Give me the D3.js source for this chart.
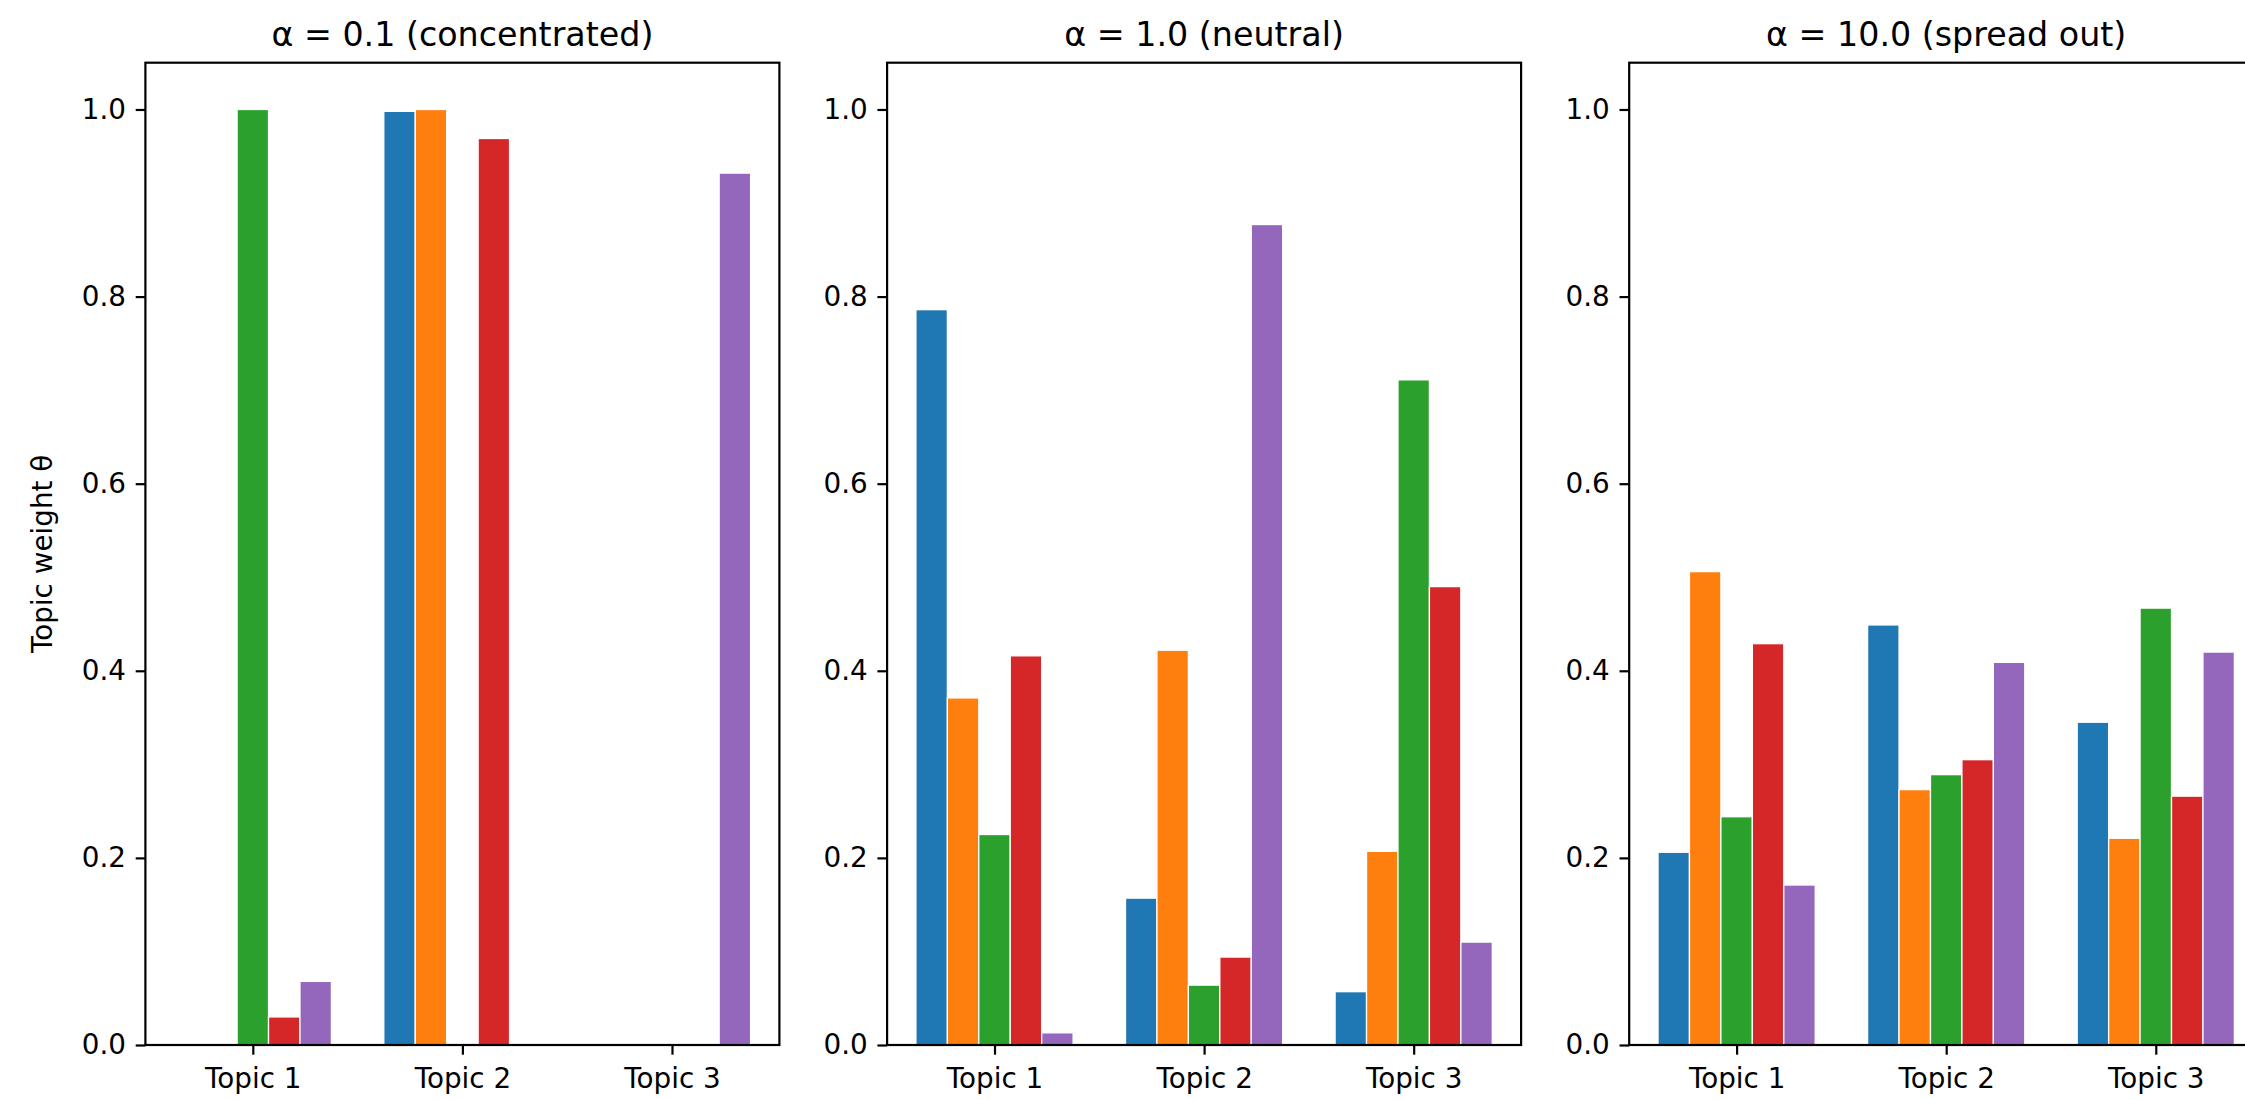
<!DOCTYPE html>
<html>
<head>
<meta charset="utf-8">
<script src="https://cdn.jsdelivr.net/npm/d3@7.9.0/dist/d3.min.js"></script>
<style>
  html, body { margin: 0; padding: 0; background: #fff; overflow: hidden; }
  svg { display: block; font-family: "DejaVu Sans", sans-serif; }
</style>
</head>
<body>
<div id="chart"></div>
<script>
// ---------------------- Data ----------------------
const topics = ['Topic 1', 'Topic 2', 'Topic 3'];
const titles = ['α = 0.1 (concentrated)', 'α = 1.0 (neutral)', 'α = 10.0 (spread out)'];
const docColors = ['#1f77b4', '#ff7f0e', '#2ca02c', '#d62728', '#9467bd'];
const yTicks = [0, 0.2, 0.4, 0.6, 0.8, 1.0];

// one row per document, one value per topic
const weightsConcentrated = [
  [0.001, 0.998, 0.001],
  [0.000, 1.000, 0.000],
  [1.000, 0.000, 0.000],
  [0.030, 0.969, 0.001],
  [0.068, 0.000, 0.932]
];
const weightsNeutral = [
  [0.786, 0.157, 0.057],
  [0.371, 0.422, 0.207],
  [0.225, 0.064, 0.711],
  [0.416, 0.094, 0.490],
  [0.013, 0.877, 0.110]
];
const weightsSpread = [
  [0.206, 0.449, 0.345],
  [0.506, 0.273, 0.221],
  [0.244, 0.289, 0.467],
  [0.429, 0.305, 0.266],
  [0.171, 0.409, 0.420]
];
const panels = [weightsConcentrated, weightsNeutral, weightsSpread];

// ---------------------- Layout ----------------------
const width = 2245, height = 1100;
const panelLefts = [145.4, 887.1, 1629.2];
const panelWidth = 634;
const plotTop = 62.7, plotBottom = 1045;
const barWidth = 0.15;
const fontTick = 27.8, fontTitle = 33.3;
const tickLen = 9.7, tickPad = 9.7, lw = 2.2;

const svg = d3.select('#chart').append('svg')
  .attr('width', width).attr('height', height);
svg.append('rect').attr('width', width).attr('height', height).attr('fill', '#fff');

const yScale = d3.scaleLinear().domain([0, 1.05]).range([plotBottom, plotTop]);

panels.forEach((weights, p) => {
  const left = panelLefts[p];
  const xScale = d3.scaleLinear()
    .domain([-0.5125, 2.5125])
    .range([left, left + panelWidth]);

  const g = svg.append('g');

  // bars
  const bars = weights.flatMap((row, doc) =>
    row.map((v, t) => ({ doc, t, v })));
  g.append('g').selectAll('rect')
    .data(bars)
    .join('rect')
    .attr('x', d => xScale(d.t + (d.doc - 2) * barWidth - barWidth / 2))
    .attr('width', xScale(barWidth) - xScale(0))
    .attr('y', d => yScale(d.v))
    .attr('height', d => yScale(0) - yScale(d.v))
    .attr('fill', d => docColors[d.doc])
    .attr('stroke', '#fff')
    .attr('stroke-width', 1.3);

  // y axis
  const yAxis = g.append('g')
    .attr('transform', `translate(${left},0)`)
    .call(d3.axisLeft(yScale).tickValues(yTicks).tickFormat(d => d.toFixed(1))
      .tickSize(tickLen).tickPadding(tickPad));
  yAxis.select('.domain').remove();
  yAxis.selectAll('line').attr('stroke', '#000').attr('stroke-width', lw);
  yAxis.selectAll('text').attr('font-size', fontTick).attr('fill', '#000')
    .attr('font-family', '"DejaVu Sans", sans-serif');

  // x axis
  const xAxis = g.append('g')
    .attr('transform', `translate(0,${plotBottom})`)
    .call(d3.axisBottom(xScale).tickValues([0, 1, 2]).tickFormat(i => topics[i])
      .tickSize(tickLen).tickPadding(tickPad));
  xAxis.select('.domain').remove();
  xAxis.selectAll('line').attr('stroke', '#000').attr('stroke-width', lw);
  xAxis.selectAll('text').attr('font-size', fontTick).attr('fill', '#000')
    .attr('font-family', '"DejaVu Sans", sans-serif')
    .attr('dy', null).attr('y', 43);

  // frame
  g.append('rect')
    .attr('x', left).attr('y', plotTop)
    .attr('width', panelWidth).attr('height', plotBottom - plotTop)
    .attr('fill', 'none').attr('stroke', '#000').attr('stroke-width', lw);

  // title
  g.append('text')
    .attr('x', left + panelWidth / 2).attr('y', 46)
    .attr('text-anchor', 'middle')
    .attr('font-size', fontTitle)
    .text(titles[p]);
});

// y label
svg.append('text')
  .attr('transform', `translate(52,${(plotTop + plotBottom) / 2}) rotate(-90)`)
  .attr('text-anchor', 'middle')
  .attr('font-size', fontTick)
  .text('Topic weight θ');
</script>
</body>
</html>
